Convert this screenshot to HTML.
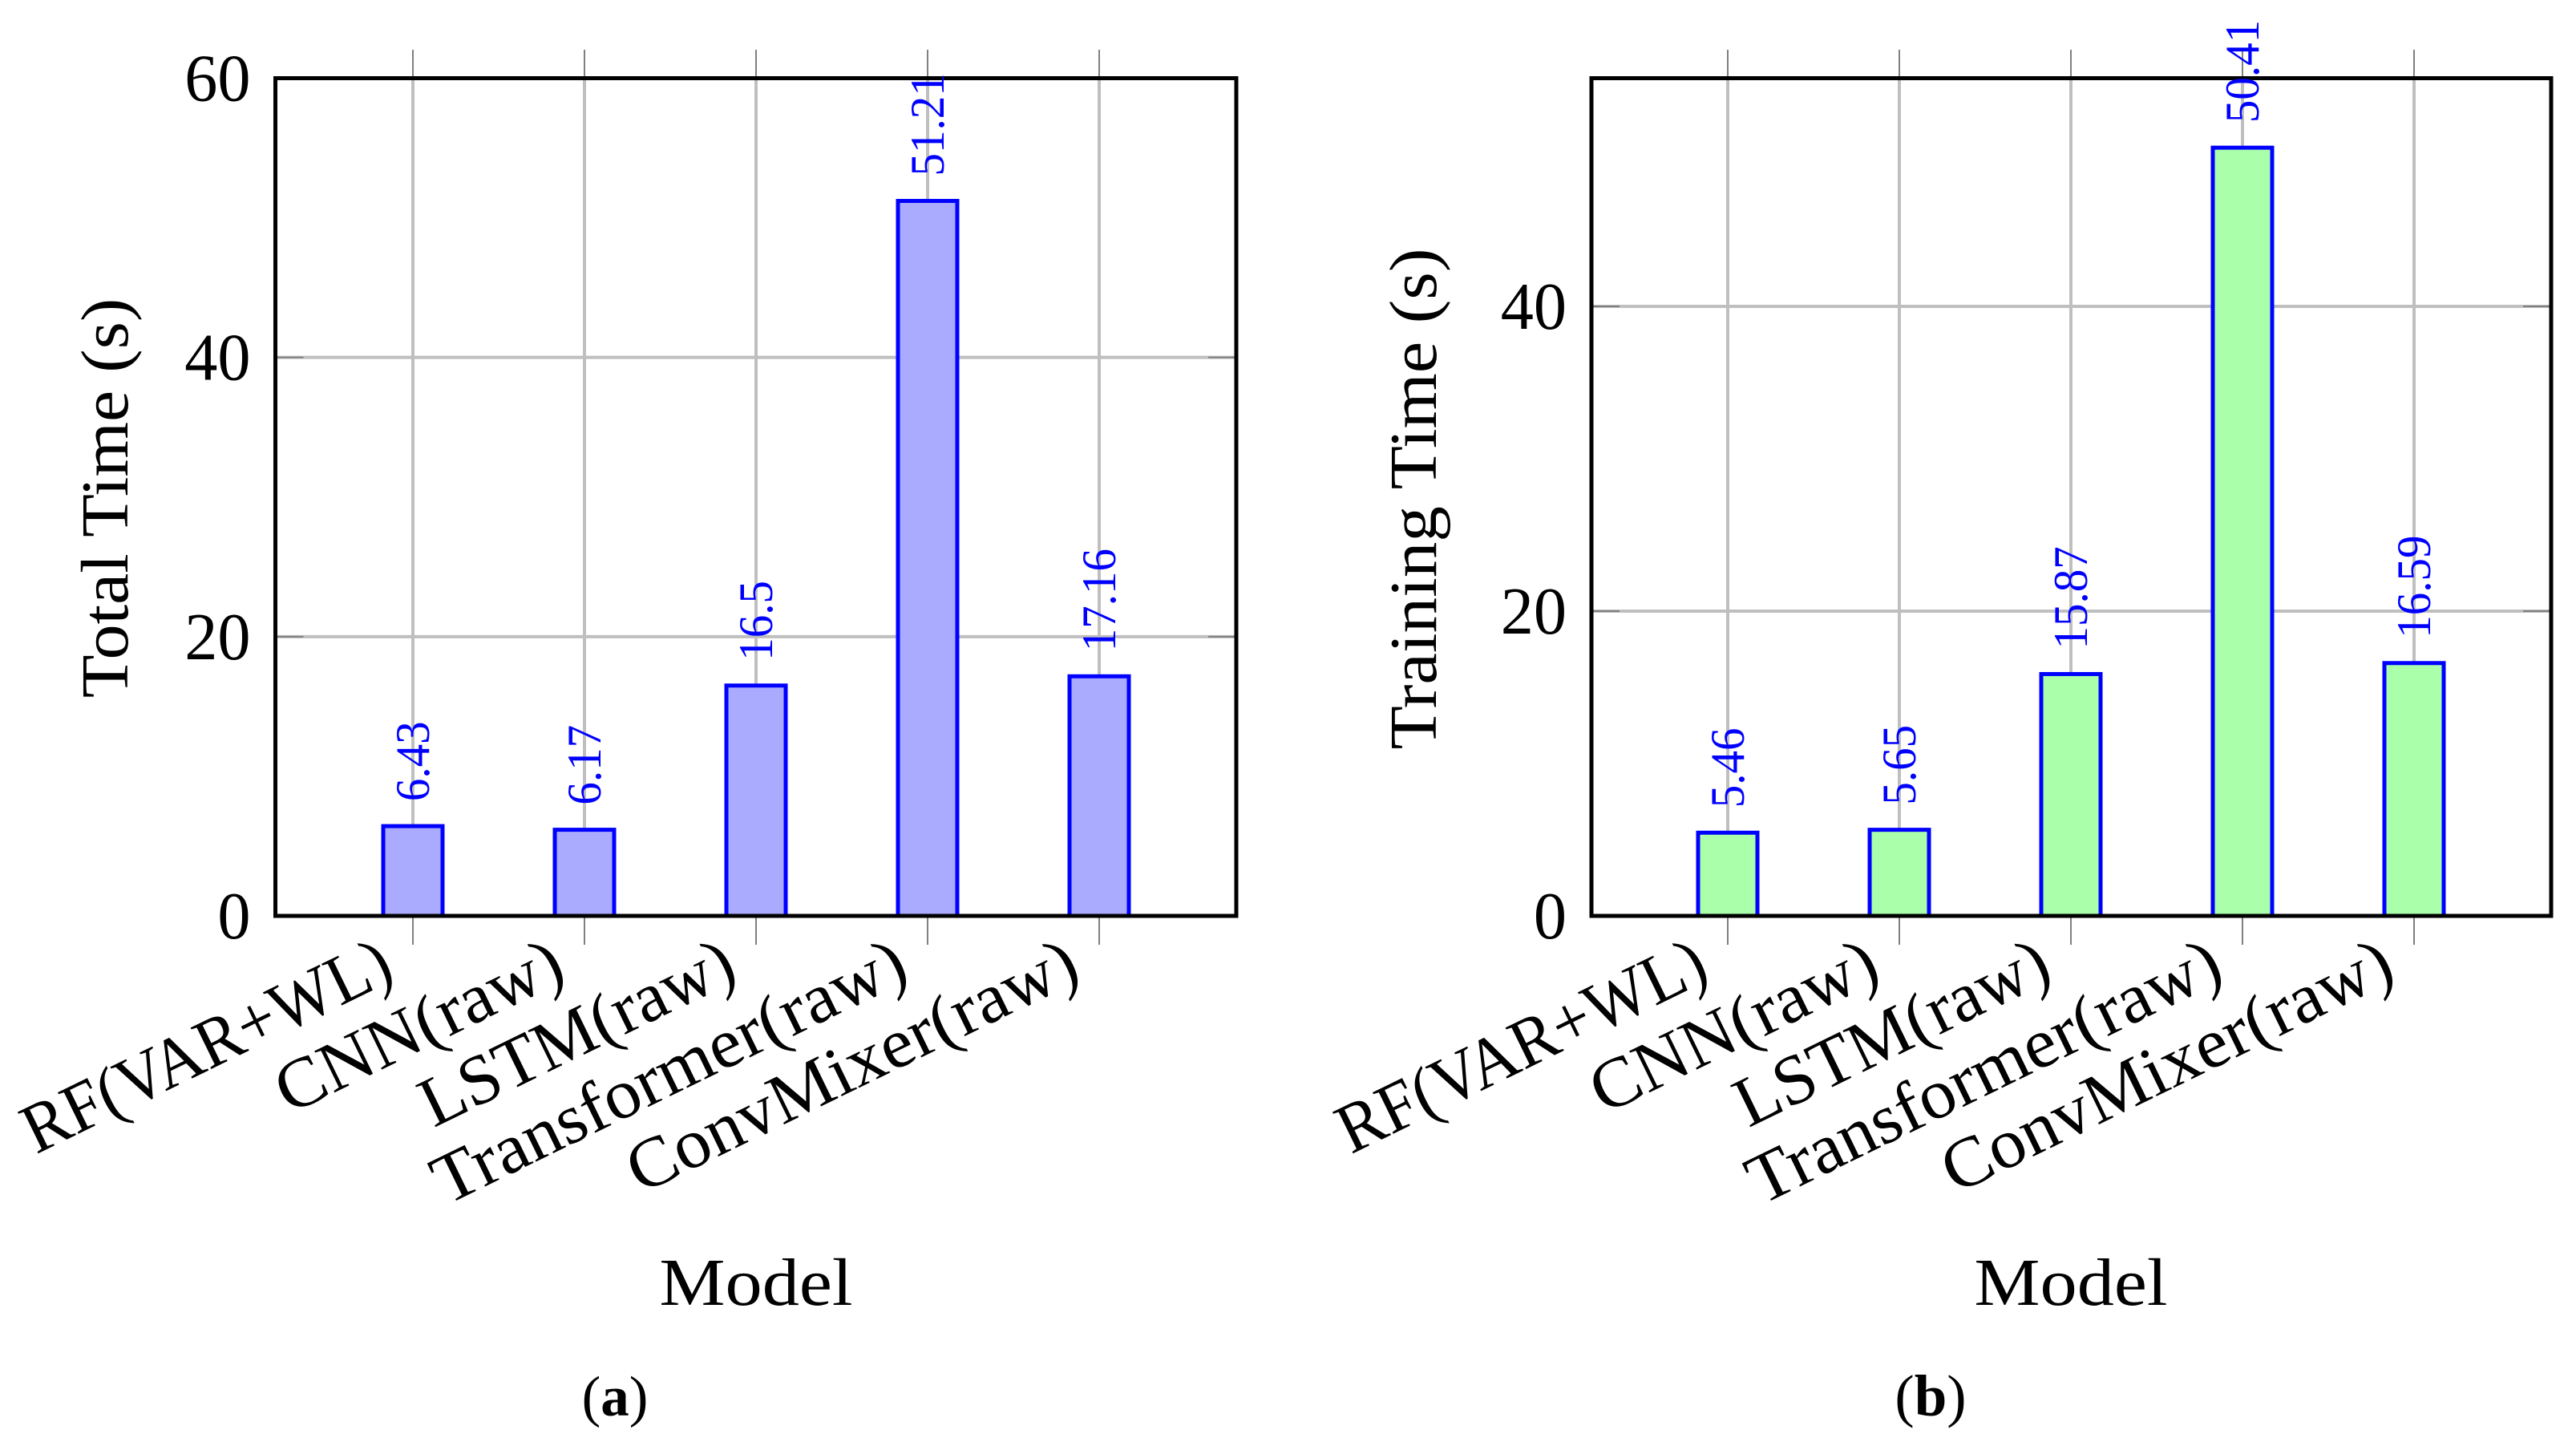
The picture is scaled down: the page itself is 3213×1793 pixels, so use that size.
<!DOCTYPE html>
<html lang="en">
<head>
<meta charset="utf-8">
<title>Total and training time per model</title>
<style>
html,body{margin:0;padding:0;background:#fff;}
svg{display:block;}
text{font-family:"Liberation Serif",serif;}
</style>
</head>
<body>
<svg id="figure" xmlns="http://www.w3.org/2000/svg" width="3213" height="1793" viewBox="0 0 3213 1793">
  <rect x="0" y="0" width="3213" height="1793" fill="#ffffff"/>
  <g id="panel-a"></g>
  <g id="panel-b"></g>
  <text transform="translate(159,621) rotate(-90) scale(1.05,1)" text-anchor="middle" font-size="84" fill="#000">Total Time (s)</text>
  <text transform="translate(1791,622) rotate(-90) scale(1.06,1)" text-anchor="middle" font-size="84" fill="#000">Training Time (s)</text>
  <text transform="translate(943,1627) scale(1.1,1)" text-anchor="middle" font-size="84" fill="#000">Model</text>
  <text transform="translate(2583,1627) scale(1.1,1)" text-anchor="middle" font-size="84" fill="#000">Model</text>
  <text x="767" y="1765" text-anchor="middle" font-size="71" fill="#000">(<tspan font-weight="bold">a</tspan>)</text>
  <text x="2408" y="1765" text-anchor="middle" font-size="73" fill="#000">(<tspan font-weight="bold">b</tspan>)</text>
</svg>
<script>
const categories = ['RF(VAR+WL)', 'CNN(raw)', 'LSTM(raw)', 'Transformer(raw)', 'ConvMixer(raw)'];
const totalTime = [6.43, 6.17, 16.5, 51.21, 17.16];
const trainingTime = [5.46, 5.65, 15.87, 50.41, 16.59];
const totalTicks = [0, 20, 40, 60];
const trainingTicks = [0, 20, 40];
const totalMax = 60;
const trainingMax = 54.97;

const NS = 'http://www.w3.org/2000/svg';

function shape(parent, tag, attrs) {
  const el = document.createElementNS(NS, tag);
  for (const k in attrs) el.setAttribute(k, attrs[k]);
  parent.appendChild(el);
  return el;
}

function drawPanel(host, cfg) {
  const top = 97.5, bottom = 1142;
  const left = cfg.left, right = cfg.right;
  const xAxis = i => cfg.firstX + i * 214;
  const yAxis = v => bottom - (v / cfg.yMax) * (bottom - top);
  const labelStretch = [0.95, 1.03, 1.0, 1.03, 1.03];

  // outer vertical tick stubs
  cfg.categories.forEach((c, i) => {
    const t = shape(host, 'line', {x1: xAxis(i), x2: xAxis(i), y1: 62, y2: 1178, stroke: '#808080', 'stroke-width': 2});
    
    
  });
  // inside vertical grid
  cfg.categories.forEach((c, i) => {
    const g = shape(host, 'line', {x1: xAxis(i), x2: xAxis(i), y1: top, y2: bottom, stroke: '#bfbfbf', 'stroke-width': 4});
    
    
  });
  // horizontal grid, ticks, labels
  cfg.ticks.forEach(v => {
    const y = yAxis(v);
    if (v > 0 && v < cfg.yMax) {
      const g = shape(host, 'line', {x1: left, x2: right, y1: y, y2: y, stroke: '#bfbfbf', 'stroke-width': 4});
      
      
      const a = shape(host, 'line', {x1: left, x2: left + 35, y1: y, y2: y, stroke: '#808080', 'stroke-width': 2});
      
      
      const b = shape(host, 'line', {x1: right - 35, x2: right, y1: y, y2: y, stroke: '#808080', 'stroke-width': 2});
      
      
    }
    const tl = shape(host, 'text', {transform: 'translate(' + (left - 31) + ',' + (y + 28) + ') scale(0.98,1)', 'text-anchor': 'end', 'font-size': 84, fill: '#000'});
    
    
    tl.textContent = String(v);
  });
  // bars
  cfg.values.forEach((v, i) => {
    const y = yAxis(v);
    const b = shape(host, 'rect', {x: xAxis(i) - 37, y: y, width: 74, height: bottom - y, fill: cfg.fill, stroke: '#0000ff', 'stroke-width': 5});
    
    
  });
  // frame
  const f = shape(host, 'rect', {x: left, y: top, width: right - left, height: bottom - top, fill: 'none', stroke: '#000', 'stroke-width': 5});
  
  
  // value labels
  cfg.values.forEach((v, i) => {
    const y = yAxis(v) - 31;
    const t = shape(host, 'text', {transform: 'translate(' + (xAxis(i) + 20) + ',' + y + ') rotate(-90) scale(0.95,1)', 'text-anchor': 'start', 'font-size': 60, fill: '#0000ff'});
    
    
    t.textContent = String(v);
  });
  // category labels
  cfg.categories.forEach((c, i) => {
    const t = shape(host, 'text', {transform: 'translate(' + (xAxis(i) - 20) + ',1220) rotate(-26) scale(' + labelStretch[i] + ',1)', 'text-anchor': 'end', 'font-size': 88, fill: '#000'});
    
    
    t.textContent = c;
  });
}

drawPanel(document.getElementById('panel-a'), {
  categories: categories, values: totalTime, ticks: totalTicks, yMax: totalMax,
  left: 343.5, right: 1542, firstX: 515, fill: '#aaaaff'
});
drawPanel(document.getElementById('panel-b'), {
  categories: categories, values: trainingTime, ticks: trainingTicks, yMax: trainingMax,
  left: 1985, right: 3182, firstX: 2155, fill: '#aaffaa'
});
</script>
</body>
</html>
